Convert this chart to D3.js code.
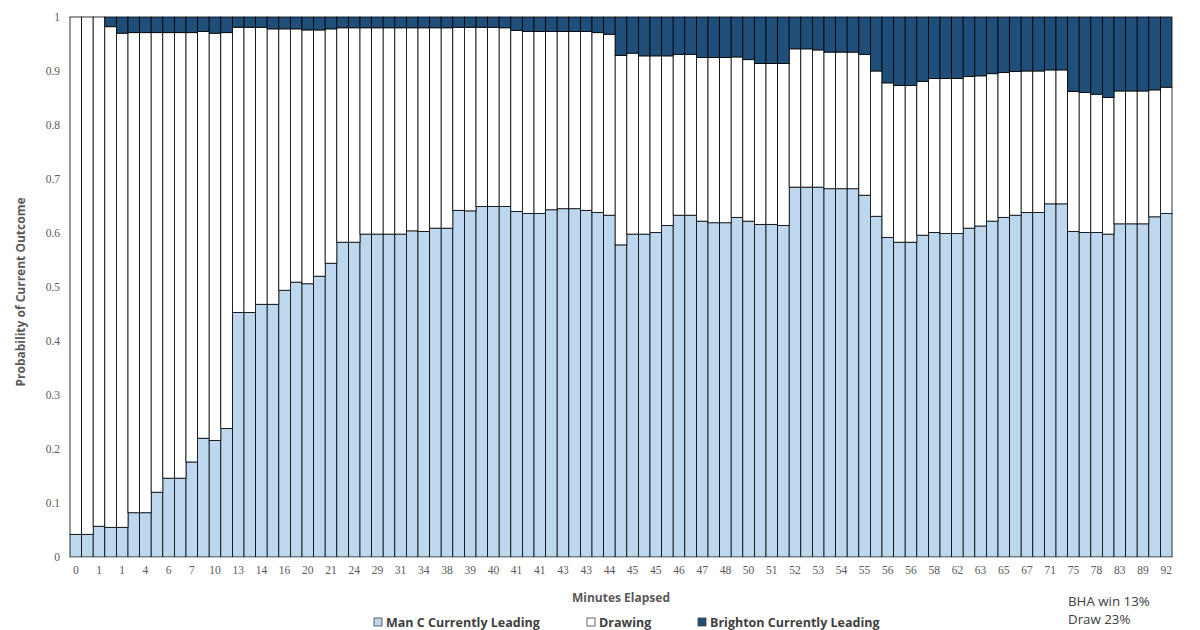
<!DOCTYPE html>
<html><head><meta charset="utf-8">
<script src="https://cdn.jsdelivr.net/npm/d3@7"></script>
<style>body{margin:0;background:#fff;} svg text{font-family:"Open Sans","Noto Sans",sans-serif;}</style>
</head><body><svg id="c" width="1200" height="630"></svg>
<script>
const minutes = [0,0,1,1,1,2,4,5,6,6,7,8,10,11,13,13,14,15,16,18,20,20,21,22,24,26,29,30,31,32,34,36,38,38,39,39,40,40,41,41,41,42,43,43,43,44,44,44,45,45,45,45,46,46,47,47,48,49,50,50,51,51,52,52,53,53,54,54,55,55,56,56,56,57,58,60,62,62,63,64,65,66,67,69,71,73,75,76,78,80,83,86,89,90,92];
const manC = [0.042,0.042,0.057,0.055,0.055,0.082,0.082,0.120,0.146,0.146,0.176,0.220,0.216,0.238,0.453,0.453,0.468,0.468,0.494,0.509,0.506,0.520,0.544,0.583,0.583,0.598,0.598,0.598,0.598,0.604,0.603,0.609,0.609,0.642,0.641,0.649,0.649,0.649,0.640,0.636,0.636,0.643,0.645,0.645,0.642,0.638,0.633,0.578,0.598,0.598,0.601,0.614,0.633,0.633,0.622,0.619,0.619,0.629,0.622,0.616,0.616,0.614,0.685,0.685,0.685,0.682,0.682,0.682,0.670,0.631,0.592,0.583,0.583,0.596,0.601,0.599,0.599,0.609,0.613,0.622,0.629,0.633,0.638,0.638,0.654,0.654,0.603,0.601,0.601,0.598,0.617,0.617,0.617,0.630,0.636];
const drawing = [0.958,0.958,0.943,0.927,0.915,0.889,0.889,0.851,0.825,0.825,0.795,0.753,0.754,0.733,0.528,0.528,0.513,0.510,0.484,0.469,0.470,0.456,0.434,0.397,0.397,0.382,0.382,0.382,0.382,0.376,0.377,0.371,0.371,0.339,0.340,0.332,0.332,0.331,0.335,0.337,0.337,0.330,0.328,0.328,0.331,0.333,0.335,0.351,0.335,0.330,0.327,0.314,0.298,0.298,0.303,0.306,0.306,0.297,0.299,0.298,0.298,0.300,0.256,0.256,0.254,0.253,0.253,0.253,0.261,0.269,0.286,0.290,0.290,0.285,0.285,0.287,0.287,0.281,0.278,0.273,0.268,0.266,0.262,0.262,0.248,0.248,0.259,0.259,0.256,0.253,0.246,0.246,0.246,0.235,0.234];
const brighton = [0,0,0,0.018,0.030,0.029,0.029,0.029,0.029,0.029,0.029,0.027,0.030,0.029,0.019,0.019,0.019,0.022,0.022,0.022,0.024,0.024,0.022,0.020,0.020,0.020,0.020,0.020,0.020,0.020,0.020,0.020,0.020,0.019,0.019,0.019,0.019,0.020,0.025,0.027,0.027,0.027,0.027,0.027,0.027,0.029,0.032,0.071,0.067,0.072,0.072,0.072,0.069,0.069,0.075,0.075,0.075,0.074,0.079,0.086,0.086,0.086,0.059,0.059,0.061,0.065,0.065,0.065,0.069,0.100,0.122,0.127,0.127,0.119,0.114,0.114,0.114,0.110,0.109,0.105,0.103,0.101,0.100,0.100,0.098,0.098,0.138,0.140,0.143,0.149,0.137,0.137,0.137,0.135,0.130];
const yTicks = [0,0.1,0.2,0.3,0.4,0.5,0.6,0.7,0.8,0.9,1];
const seriesKeys = ["manC","drawing","brighton"];
const seriesNames = ["Man C Currently Leading","Drawing","Brighton Currently Leading"];
const seriesColors = ["#BDD7EE","#FFFFFF","#1F4E79"];
const xTitle = "Minutes Elapsed";
const yTitle = "Probability of Current Outcome";
const noteLines = ["BHA win 13%","Draw 23%"];

const rows = minutes.map((m,i)=>({i, manC:manC[i], drawing:drawing[i], brighton:brighton[i]}));
const svg = d3.select("#c");
const L=70, R=1172, T=17, B=557;
const x = d3.scaleBand().domain(d3.range(minutes.length)).range([L,R]).padding(0);
const y = d3.scaleLinear().domain([0,1]).range([B,T]);
const color = d3.scaleOrdinal().domain(seriesKeys).range(seriesColors);

const stacked = d3.stack().keys(seriesKeys)(rows);
svg.append("g").selectAll("g").data(stacked).join("g")
  .attr("fill", d=>color(d.key))
  .selectAll("rect").data(d=>d).join("rect")
  .attr("x", d=>x(d.data.i))
  .attr("width", x.bandwidth())
  .attr("y", d=>y(d[1]))
  .attr("height", d=>Math.max(0, y(d[0])-y(d[1])))
  .attr("stroke","#000").attr("stroke-width",0.8);

const tickFont = '"Liberation Serif","DejaVu Serif",serif';
// x axis
const xAxis = d3.axisBottom(x)
  .tickValues(d3.range(0, minutes.length, 2))
  .tickFormat(i=>minutes[i]).tickSize(0).tickPadding(9);
const gx = svg.append("g").attr("transform",`translate(0,${B})`).call(xAxis);
gx.select(".domain").attr("stroke","#bfbfbf");
gx.selectAll("text").attr("fill","#595959").style("font-size","11.5px").style("font-family",tickFont);

// y axis
const yAxis = d3.axisLeft(y).tickValues(yTicks).tickFormat(d3.format("")).tickSize(0).tickPadding(10);
const gy = svg.append("g").attr("transform",`translate(${L},0)`).call(yAxis);
gy.select(".domain").remove();
gy.selectAll("text").attr("fill","#595959").style("font-size","11.5px").style("font-family",tickFont);

// titles
svg.append("text").attr("x",621).attr("y",602).attr("text-anchor","middle")
  .attr("fill","#595959").style("font-size","12px").style("font-weight","bold").text(xTitle);
svg.append("text").attr("transform","translate(25,292) rotate(-90)").attr("text-anchor","middle")
  .attr("fill","#595959").style("font-size","12px").style("font-weight","bold").text(yTitle);

// legend
const legX = [374, 587, 698];
const lg = svg.append("g");
seriesNames.forEach((n,k)=>{
  lg.append("rect").attr("x",legX[k]).attr("y",618).attr("width",8).attr("height",8)
    .attr("fill",seriesColors[k]).attr("stroke","#404040").attr("stroke-width",0.8);
  lg.append("text").attr("x",legX[k]+12).attr("y",627).attr("fill","#404040")
    .style("font-size","12.5px").style("font-weight","bold").text(n);
});

// note
noteLines.forEach((t,k)=>{
  svg.append("text").attr("x",1068).attr("y",606+k*18).attr("fill","#404040")
    .style("font-size","13.3px").text(t);
});
</script></body></html>
